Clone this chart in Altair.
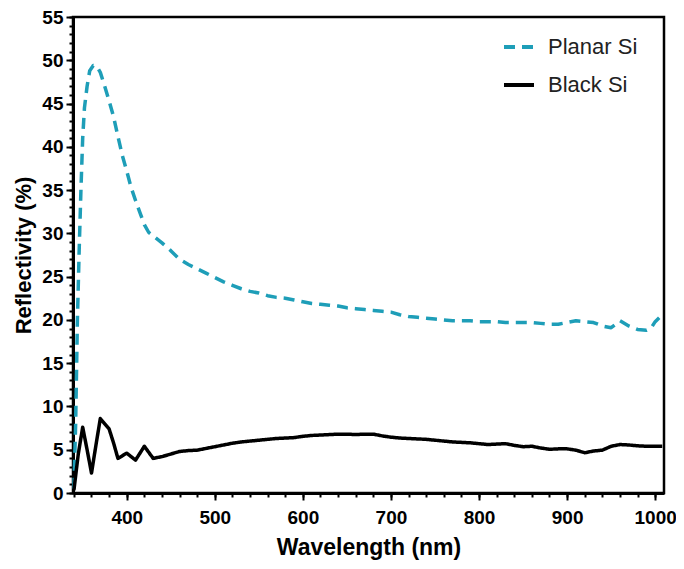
import altair as alt
import pandas as pd

# Planar Si (dashed teal)
planar_wl = [340, 342, 344, 346, 348, 350, 352, 355, 358, 362, 366, 370, 375, 380, 385, 390, 395,
             400, 405, 410, 415, 420, 425, 430, 440, 450, 460, 470, 480, 490, 500, 510, 520, 530,
             540, 550, 560, 570, 580, 590, 600, 610, 620, 630, 640, 650, 660, 670, 680, 690, 700,
             710, 720, 730, 740, 750, 760, 770, 780, 790, 800, 810, 820, 830, 840, 850, 860, 870,
             880, 890, 900, 910, 920, 930, 940, 950, 960, 970, 980, 990, 995, 1000, 1005]
planar_val = [0.5, 8, 20, 28, 35, 41, 44.5, 47, 48.8, 49.4, 49.3, 48.6, 47, 45.3, 43.5, 41.2, 39,
              37.2, 35.3, 33.8, 32.4, 31.0, 30.1, 29.7, 28.9, 28.0, 27.0, 26.4, 25.9, 25.4, 24.9,
              24.4, 24.0, 23.6, 23.3, 23.1, 22.8, 22.6, 22.5, 22.3, 22.1, 21.9, 21.8, 21.7, 21.6,
              21.4, 21.3, 21.2, 21.1, 21.0, 20.9, 20.6, 20.4, 20.3, 20.2, 20.1, 20.0, 19.9, 19.9,
              19.9, 19.8, 19.8, 19.8, 19.7, 19.7, 19.7, 19.7, 19.6, 19.5, 19.5, 19.7, 19.9, 19.8,
              19.7, 19.3, 19.1, 19.9, 19.3, 18.9, 18.8, 19.0, 19.8, 20.3]

# Black Si (solid black)
black_wl = [340, 345, 350, 355, 360, 365, 370, 375, 380, 385, 390, 395, 400, 405, 410, 415, 420,
            425, 430, 440, 450, 460, 470, 480, 490, 500, 510, 520, 530, 540, 550, 560, 570, 580,
            590, 600, 610, 620, 630, 640, 650, 660, 670, 680, 690, 700, 710, 720, 730, 740, 750,
            760, 770, 780, 790, 800, 810, 820, 830, 840, 850, 860, 870, 880, 890, 900, 910, 920,
            930, 940, 950, 960, 970, 980, 990, 1000, 1008]
black_val = [0.3, 4.5, 7.6, 5.0, 2.3, 5.5, 8.6, 8.0, 7.4, 5.8, 4.0, 4.3, 4.6, 4.2, 3.8, 4.6, 5.4,
             4.7, 4.0, 4.2, 4.5, 4.8, 4.9, 4.95, 5.15, 5.35, 5.55, 5.75, 5.9, 6.0, 6.1, 6.2, 6.3,
             6.35, 6.4, 6.55, 6.65, 6.7, 6.75, 6.8, 6.8, 6.75, 6.8, 6.8, 6.6, 6.45, 6.35, 6.3, 6.25,
             6.2, 6.1, 6.0, 5.9, 5.85, 5.8, 5.7, 5.6, 5.65, 5.7, 5.5, 5.35, 5.4, 5.2, 5.05, 5.1,
             5.1, 4.95, 4.65, 4.85, 4.95, 5.4, 5.6, 5.55, 5.45, 5.4, 5.4, 5.4]

series = ["Planar Si", "Black Si"]
colors = ["#1E9EB8", "#000000"]
dashes = [[11, 7], [1, 0]]

y_major = list(range(0, 56, 5))
y_minor = list(range(0, 56, 1))
x_major = list(range(400, 1001, 100))
x_minor = list(range(340, 1001, 20))

df = pd.concat([
    pd.DataFrame({"wl": planar_wl, "val": planar_val, "series": series[0]}),
    pd.DataFrame({"wl": black_wl, "val": black_val, "series": series[1]}),
])

FONT = "Liberation Sans"
xscale = alt.Scale(domain=[339, 1010], nice=False, zero=False)
yscale = alt.Scale(domain=[0, 55], nice=False)

legend_kw = dict(title=None, orient="none", legendX=429, legendY=13,
                 symbolType="stroke", symbolSize=900, symbolStrokeWidth=4,
                 labelFontSize=22, labelFont=FONT, labelColor="#222222",
                 labelOffset=12, rowPadding=10, padding=0)

main = alt.Chart(df).mark_line(strokeWidth=3.5, strokeJoin="round").encode(
    x=alt.X("wl:Q", scale=xscale,
            axis=alt.Axis(orient="bottom", values=x_major, format="d", title="Wavelength (nm)",
                          tickSize=7, tickWidth=2, labelPadding=8, titlePadding=9,
                          titleFontSize=23)),
    y=alt.Y("val:Q", scale=yscale,
            axis=alt.Axis(orient="left", values=y_major, title="Reflectivity (%)",
                          tickSize=7, tickWidth=2, labelPadding=3, titlePadding=6,
                          titleFontSize=22)),
    color=alt.Color("series:N", scale=alt.Scale(domain=series, range=colors),
                    legend=alt.Legend(**legend_kw)),
    strokeDash=alt.StrokeDash("series:N", scale=alt.Scale(domain=series, range=dashes),
                              legend=alt.Legend(**legend_kw)),
)

minor = alt.Chart(df).mark_point(opacity=0).encode(
    x=alt.X("wl:Q", scale=xscale,
            axis=alt.Axis(orient="bottom", values=x_minor, labels=False, title=None,
                          domain=False, tickSize=4, tickWidth=2)),
    y=alt.Y("val:Q", scale=yscale,
            axis=alt.Axis(orient="left", values=y_minor, labels=False, title=None,
                          domain=False, tickSize=4, tickWidth=2)),
)

chart = alt.layer(minor, main).resolve_axis(x="independent", y="independent").properties(
    width=591, height=476,
    autosize=alt.AutoSizeParams(type="none"),
    padding={"left": 65, "top": 9, "right": 12, "bottom": 67},
).configure_view(stroke="black", strokeWidth=2.5).configure_axis(
    domainColor="black", domainWidth=3, tickColor="black", grid=False,
    labelFont=FONT, labelFontSize=19, labelFontWeight="bold", labelColor="black",
    titleFont=FONT, titleFontSize=24, titleFontWeight="bold", titleColor="black",
)

chart.save("out.html", embed_options={"renderer": "svg", "actions": False})
